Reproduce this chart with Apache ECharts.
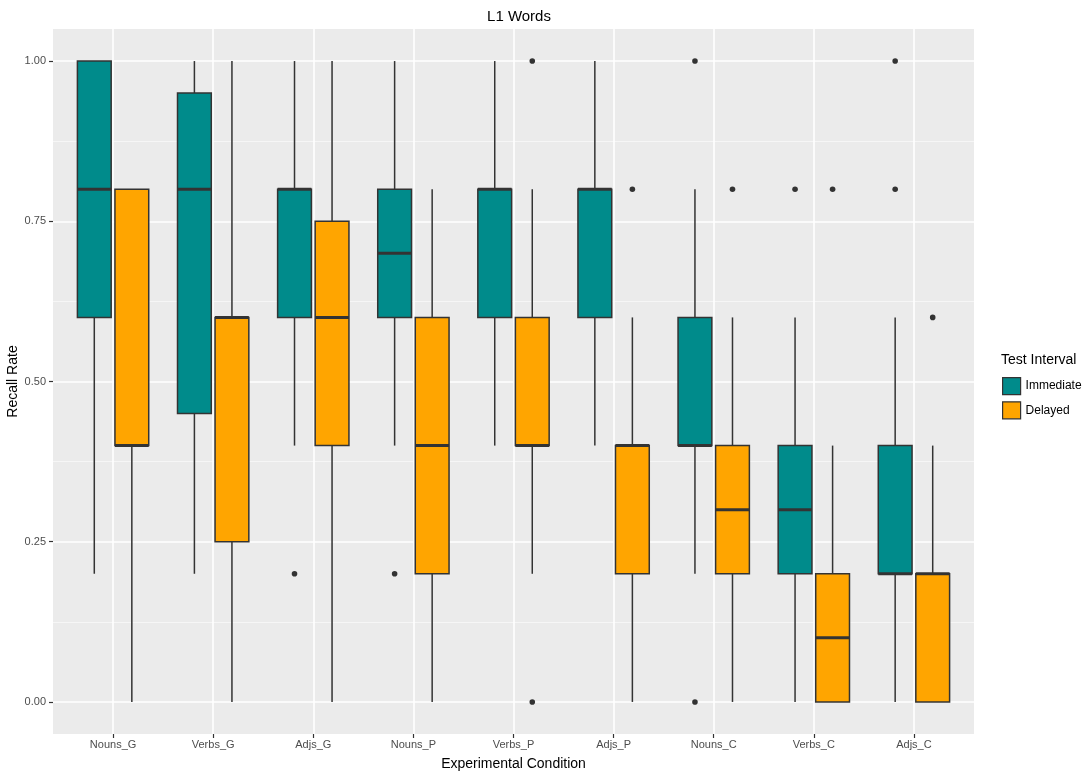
<!DOCTYPE html>
<html>
<head>
<meta charset="utf-8">
<script src="https://cdn.jsdelivr.net/npm/echarts@6/dist/echarts.min.js"></script>
<style>
  html, body { margin: 0; padding: 0; background: #fff; }
  #chart { width: 1084px; height: 772px; }
</style>
</head>
<body>
<div id="chart"></div>
<script>
var categories = ['Nouns_G', 'Verbs_G', 'Adjs_G', 'Nouns_P', 'Verbs_P', 'Adjs_P', 'Nouns_C', 'Verbs_C', 'Adjs_C'];
var yTicks = [0, 0.25, 0.5, 0.75, 1];
var yMinorTicks = [0.125, 0.375, 0.625, 0.875];

// [min, Q1, median, Q3, max] for each condition
var immediateBoxes = [
  [0.2, 0.6, 0.8, 1.0, 1.0],
  [0.2, 0.45, 0.8, 0.95, 1.0],
  [0.4, 0.6, 0.8, 0.8, 1.0],
  [0.4, 0.6, 0.7, 0.8, 1.0],
  [0.4, 0.6, 0.8, 0.8, 1.0],
  [0.4, 0.6, 0.8, 0.8, 1.0],
  [0.2, 0.4, 0.4, 0.6, 0.8],
  [0.0, 0.2, 0.3, 0.4, 0.6],
  [0.0, 0.2, 0.2, 0.4, 0.6]
];
var delayedBoxes = [
  [0.0, 0.4, 0.4, 0.8, 0.8],
  [0.0, 0.25, 0.6, 0.6, 1.0],
  [0.0, 0.4, 0.6, 0.75, 1.0],
  [0.0, 0.2, 0.4, 0.6, 0.8],
  [0.2, 0.4, 0.4, 0.6, 0.8],
  [0.0, 0.2, 0.4, 0.4, 0.6],
  [0.0, 0.2, 0.3, 0.4, 0.6],
  [0.0, 0.0, 0.1, 0.2, 0.4],
  [0.0, 0.0, 0.2, 0.2, 0.4]
];
// [category index, value]
var immediateOutliers = [[2, 0.2], [3, 0.2], [6, 1.0], [6, 0.0], [7, 0.8], [8, 1.0], [8, 0.8]];
var delayedOutliers = [[4, 1.0], [4, 0.0], [5, 0.8], [6, 0.8], [7, 0.8], [8, 0.6]];

var BOX_W = 0.3375;
var DODGE = 0.1875;
var INK = '#333333';
var FONT = 'Liberation Sans, Arial, sans-serif';

var xPos = categories.map(function (c, i) { return i + 1; });

function boxData(list) {
  return list.map(function (b, i) { return [i + 1].concat(b); });
}
function outlierData(list) {
  return list.map(function (o) { return [o[0] + 1, o[1]]; });
}

function boxRenderer(offset) {
  return function (params, api) {
    var x = api.value(0) + offset;
    var pMin = api.coord([x, api.value(1)]);
    var pQ1 = api.coord([x, api.value(2)]);
    var pMed = api.coord([x, api.value(3)]);
    var pQ3 = api.coord([x, api.value(4)]);
    var pMax = api.coord([x, api.value(5)]);
    var w = api.size([BOX_W, 0])[0];
    var cx = pMed[0];
    return {
      type: 'group',
      children: [
        { type: 'line', shape: { x1: cx, y1: pMin[1], x2: cx, y2: pQ1[1] }, style: { stroke: INK, lineWidth: 1.5 } },
        { type: 'line', shape: { x1: cx, y1: pQ3[1], x2: cx, y2: pMax[1] }, style: { stroke: INK, lineWidth: 1.5 } },
        { type: 'rect', shape: { x: cx - w / 2, y: pQ3[1], width: w, height: pQ1[1] - pQ3[1] },
          style: { fill: api.visual('color'), stroke: INK, lineWidth: 1.5 } },
        { type: 'line', shape: { x1: cx - w / 2, y1: pMed[1], x2: cx + w / 2, y2: pMed[1] }, style: { stroke: INK, lineWidth: 3 } }
      ]
    };
  };
}

function outlierRenderer(offset) {
  return function (params, api) {
    var p = api.coord([api.value(0) + offset, api.value(1)]);
    return { type: 'circle', shape: { cx: p[0], cy: p[1], r: 2.8 }, style: { fill: INK } };
  };
}

var chart = echarts.init(document.getElementById('chart'), null, { renderer: 'canvas' });
chart.setOption({
  animation: false,
  textStyle: { fontFamily: FONT },
  title: [{
    text: 'L1 Words',
    left: 514,
    top: 4,
    textAlign: 'center',
    textStyle: { fontSize: 15, fontWeight: 'normal', color: '#000', fontFamily: FONT }
  }, {
    text: 'Test Interval',
    left: 996,
    top: 348,
    textStyle: { fontSize: 14, fontWeight: 'normal', color: '#000', fontFamily: FONT }
  }],
  legend: {
    data: ['Immediate', 'Delayed'],
    orient: 'vertical',
    left: 997,
    top: 372,
    icon: 'rect',
    itemWidth: 18,
    itemHeight: 17,
    itemGap: 6,
    itemStyle: { borderColor: INK, borderWidth: 1.2 },
    textStyle: { fontSize: 12, color: '#000', fontFamily: FONT }
  },
  grid: {
    left: 53, right: 110, top: 29, bottom: 38,
    outerBoundsMode: 'none',
    containLabel: false,
    show: true, backgroundColor: '#EBEBEB', borderWidth: 0
  },
  xAxis: {
    type: 'value',
    min: 0.4,
    max: 9.6,
    name: 'Experimental Condition',
    nameLocation: 'middle',
    nameGap: 23,
    nameMoveOverlap: false,
    nameTextStyle: { fontSize: 14, color: '#000', fontFamily: FONT },
    axisLine: { show: false, onZero: false },
    axisTick: { show: true, length: 4, customValues: xPos, lineStyle: { color: INK, width: 1.2 } },
    axisLabel: {
      customValues: xPos, margin: 5, fontSize: 11, color: '#4D4D4D', fontFamily: FONT,
      formatter: function (v) { return categories[Math.round(v) - 1]; }
    },
    splitLine: { show: true, lineStyle: { color: '#fff', width: 1.6 } }
  },
  yAxis: [{
    type: 'value',
    position: 'left',
    min: -0.05,
    max: 1.05,
    name: 'Recall Rate',
    nameLocation: 'middle',
    nameGap: 33,
    nameMoveOverlap: false,
    nameTextStyle: { fontSize: 14, color: '#000', fontFamily: FONT },
    axisLine: { show: false, onZero: false },
    axisTick: { show: true, length: 4, customValues: yTicks, lineStyle: { color: INK, width: 1.2 } },
    axisLabel: {
      customValues: yTicks, margin: 7, fontSize: 11, color: '#4D4D4D', fontFamily: FONT,
      formatter: function (v) { return v.toFixed(2); }
    },
    splitLine: { show: true, lineStyle: { color: '#fff', width: 1.6 } }
  }, {
    type: 'value',
    position: 'left',
    min: -0.05,
    max: 1.05,
    axisLine: { show: false, onZero: false },
    axisTick: { show: false, customValues: yMinorTicks },
    axisLabel: { show: false, customValues: yMinorTicks },
    splitLine: { show: true, lineStyle: { color: '#F7F7F7', width: 0.9 } }
  }],
  series: [{
    name: 'Immediate',
    type: 'custom',
    itemStyle: { color: '#008B8B' },
    renderItem: boxRenderer(-DODGE),
    encode: { x: 0, y: [1, 2, 3, 4, 5] },
    data: boxData(immediateBoxes),
    z: 3
  }, {
    name: 'Delayed',
    type: 'custom',
    itemStyle: { color: '#FFA500' },
    renderItem: boxRenderer(DODGE),
    encode: { x: 0, y: [1, 2, 3, 4, 5] },
    data: boxData(delayedBoxes),
    z: 3
  }, {
    name: 'Immediate outliers',
    type: 'custom',
    renderItem: outlierRenderer(-DODGE),
    encode: { x: 0, y: 1 },
    data: outlierData(immediateOutliers),
    z: 4
  }, {
    name: 'Delayed outliers',
    type: 'custom',
    renderItem: outlierRenderer(DODGE),
    encode: { x: 0, y: 1 },
    data: outlierData(delayedOutliers),
    z: 4
  }]
});
window.addEventListener('resize', function () { chart.resize(); });
</script>
</body>
</html>
